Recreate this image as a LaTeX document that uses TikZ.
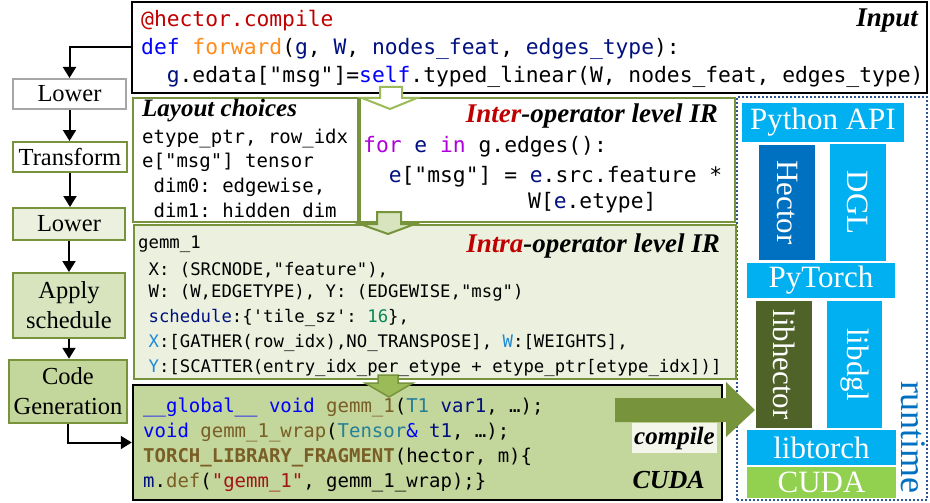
\documentclass[tikz,border=0pt]{standalone}
\usepackage{fontspec}
\setmainfont{Liberation Serif}
\setmonofont{DejaVu Sans Mono}
\usetikzlibrary{arrows.meta,fit}
\definecolor{ogreen}{HTML}{77933C}
\definecolor{lgreen}{HTML}{9BBB59}
\definecolor{fillA}{HTML}{EBF1DE}
\definecolor{fillB}{HTML}{D7E4BD}
\definecolor{fillC}{HTML}{C3D69B}
\definecolor{cyanb}{HTML}{00B0F0}
\definecolor{blueb}{HTML}{0070C0}
\definecolor{olived}{HTML}{4F6228}
\definecolor{limeg}{HTML}{92D050}
\definecolor{dotblue}{HTML}{2F5597}
\definecolor{cred}{HTML}{C00000}
\definecolor{kwc}{HTML}{0000FF}
\definecolor{prmc}{HTML}{001080}
\definecolor{fnc}{HTML}{795E26}
\definecolor{typc}{HTML}{267F99}
\definecolor{strc}{HTML}{A31515}
\definecolor{numc}{HTML}{098658}
\definecolor{ctrlc}{HTML}{AF00DB}
\definecolor{orngc}{HTML}{FF8C1A}
\definecolor{lbc}{HTML}{1E8AD6}
\definecolor{greyb}{HTML}{A6A6A6}
\definecolor{compfill}{HTML}{F4F6EC}
\newcommand{\cKw}[1]{\textcolor{kwc}{#1}}
\newcommand{\cPrm}[1]{\textcolor{prmc}{#1}}
\newcommand{\cFn}[1]{\textcolor{fnc}{#1}}
\newcommand{\cTyp}[1]{\textcolor{typc}{#1}}
\newcommand{\cLb}[1]{\textcolor{lbc}{#1}}
\tikzset{
  arr/.style={-{Triangle[width=13pt,length=11pt]}, line width=2pt, black},
  box/.style={inner sep=0pt, draw},
  stage/.style={inner sep=0pt, draw, line width=2pt},
  stagetxt/.style={inner sep=0pt, align=center, font=\fontsize{24.5}{30}\selectfont},
  codeA/.style={anchor=base west, inner sep=0pt, font=\ttfamily\fontsize{21.3}{21}\selectfont},
  codeB/.style={anchor=base west, inner sep=0pt, font=\ttfamily\fontsize{19}{19}\selectfont},
  codeC/.style={anchor=base west, inner sep=0pt, font=\ttfamily\fontsize{17.3}{17.3}\selectfont},
  ttl/.style={inner sep=0pt, font=\bfseries\itshape\fontsize{27}{27}\selectfont},
  rblock/.style={inner sep=0pt},
  rtext/.style={inner sep=0pt, text=white, font=\fontsize{31}{31}\selectfont},
  rlabel/.style={inner sep=0pt, text=white, rotate=-90, font=\fontsize{31}{31}\selectfont},
}
\begin{document}
\begin{tikzpicture}[x=1pt,y=-1pt]
\useasboundingbox (0,0) rectangle (930,503);
% ---------- runtime region
\node[box, draw=dotblue, line width=2pt, dotted, fit={(737,97) (927,500)}] (runtime) {};
\node[rblock, fill=cyanb, fit={(742,103) (904,142)}] (pyapi) {};
\node[rtext] (pyapil) at (pyapi.center) {Python API};
\node[rblock, fill=blueb, fit={(759,145) (815,260)}] (hector) {};
\node[rlabel] (hectorl) at (hector.center) {Hector};
\node[rblock, fill=cyanb, fit={(830,144) (886,261)}] (dgl) {};
\node[rlabel] (dgll) at (dgl.center) {DGL};
\node[rblock, fill=cyanb, fit={(747,263) (895,298)}] (pytorch) {};
\node[rtext] (pytorchl) at (pytorch.center) {PyTorch};
\node[rblock, fill=olived, fit={(756,301) (812,428)}] (libhector) {};
\node[rlabel] (libhectorl) at (libhector.center) {libhector};
\node[rblock, fill=cyanb, fit={(827,301) (882,428)}] (libdgl) {};
\node[rlabel] (libdgll) at (libdgl.center) {libdgl};
\node[rblock, fill=cyanb, fit={(747,430) (896,465)}] (libtorch) {};
\node[rtext] (libtorchl) at (libtorch.center) {libtorch};
\node[rblock, fill=limeg, fit={(747,467) (896,498)}] (cudart) {};
\node[rtext] (cudartl) at (cudart.center) {CUDA};
\node[inner sep=0pt, rotate=-90, text=blueb, font=\fontsize{36}{36}\selectfont] (rtlabel) at (913,437) {runtime};
% ---------- left column
\node[stage, draw=greyb, fill=white, fit={(13,79) (126,109)}] (lower1) {};
\node[stagetxt] at (lower1.center) {Lower};
\node[stage, draw=ogreen, fill=white, fit={(13,142) (127,172)}] (transform) {};
\node[stagetxt] at (transform.center) {Transform};
\node[stage, draw=ogreen, fill=fillA, fit={(13,208) (125,240)}] (lower2) {};
\node[stagetxt] at (lower2.center) {Lower};
\node[stage, draw=ogreen, fill=fillB, fit={(13,273) (125,338)}] (apply) {};
\node[stagetxt] at (apply.center) {Apply\\schedule};
\node[stage, draw=ogreen, line width=2.5pt, fill=fillC, fit={(9,360) (127,423)}] (codegen) {};
\node[stagetxt] at (codegen.center) {Code\\Generation};
% ---------- main boxes
\node[box, line width=1.5pt, fill=white, fit={(132,2) (927,93)}] (input) {};
\node[box, draw=ogreen, line width=2.2pt, fill=white, fit={(133,98) (358,222)}] (layout) {};
\node[box, draw=ogreen, line width=2.2pt, fill=white, fit={(360,98) (735,222)}] (inter) {};
\node[box, draw=ogreen, line width=2.2pt, fill=fillA, fit={(134,225) (736,379)}] (intra) {};
\node[box, draw=black, line width=2.5pt, fill=fillC, fit={(133,385) (722,500)}] (cuda) {};
% ---------- left connectors
\draw[arr] (input.west) -| (lower1.north);
\draw[arr] (lower1.south) -- (lower1.south |- transform.north);
\draw[arr] (transform.south) -- (transform.south |- lower2.north);
\draw[arr] (lower2.south) -- (lower2.south |- apply.north);
\draw[arr] (apply.south) -- (apply.south |- codegen.north);
\draw[arr] (codegen.south) |- (cuda.west);
% ---------- block arrows
\filldraw[draw=lgreen, fill=white, line width=2pt, line join=miter]
  (380,87) -- (402,87) -- (402,98) -- (417,98) -- (390,109) -- (362,98) -- (380,98) -- cycle;
\filldraw[draw=ogreen, fill=fillB, line width=2pt, line join=miter]
  (377,212) -- (401,212) -- (401,224) -- (415,224) -- (388,234) -- (360,224) -- (377,224) -- cycle;
\filldraw[draw=ogreen, fill=lgreen, line width=1.5pt, line join=miter]
  (378,375) -- (398,375) -- (398,383) -- (413,383) -- (389,397) -- (365,383) -- (378,383) -- cycle;
\fill[ogreen] (615,398) -- (726,398) -- (726,382) -- (755,410) -- (726,437) -- (726,422) -- (615,422) -- cycle;
% ---------- Input text
\node[ttl, anchor=base east] (inputt) at (918,27) {Input};
\node[codeA] (in1) at (141,27) {\textcolor{cred}{@hector.compile}};
\node[codeA] (in2) at (141,55) {\cKw{def} \textcolor{orngc}{forward}(\cPrm{g}, \cPrm{W}, \cPrm{nodes\_feat}, \cPrm{edges\_type}):};
\node[codeA] (in3) at (141,83) {\phantom{xx}\cPrm{g}.edata["msg"]=\cKw{self}.typed\_linear(W, nodes\_feat, edges\_type)};
% ---------- Layout text
\node[inner sep=0pt, anchor=base west, font=\bfseries\itshape\fontsize{25}{25}\selectfont] (layt) at (142,117) {Layout choices};
\node[codeB] (lay1) at (142,143) {etype\_ptr, row\_idx};
\node[codeB] (lay2) at (142,167) {e["msg"] tensor};
\node[codeB] (lay3) at (142,192) {\phantom{x}dim0: edgewise,};
\node[codeB] (lay4) at (142,217) {\phantom{x}dim1: hidden dim};
% ---------- Inter text
\node[ttl, anchor=base east] (intert) at (718,123) {\textcolor{cred}{Inter}-operator level IR};
\node[codeA] (int1) at (363,153) {\textcolor{ctrlc}{for} \cPrm{e} \textcolor{ctrlc}{in} g.edges():};
\node[codeA] (int2) at (363,182) {\phantom{xx}\cPrm{e}["msg"] = \cPrm{e}.src.feature *};
\node[codeA] (int3) at (528,208) {W[\cPrm{e}.etype]};
% ---------- Intra text
\node[ttl, anchor=base east] (intrat) at (720,252) {\textcolor{cred}{Intra}-operator level IR};
\node[codeC] (ia1) at (138,248) {gemm\_1};
\node[codeC] (ia2) at (138,275) {\phantom{x}X: (SRCNODE,"feature"),};
\node[codeC] (ia3) at (138,297) {\phantom{x}W: (W,EDGETYPE), Y: (EDGEWISE,"msg")};
\node[codeC] (ia4) at (138,322) {\phantom{x}\cPrm{schedule}:\{'tile\_sz': \textcolor{numc}{16}\},};
\node[codeC] (ia5) at (138,347) {\phantom{x}\cLb{X}:[GATHER(row\_idx),NO\_TRANSPOSE], \cLb{W}:[WEIGHTS],};
\node[codeC] (ia6) at (138,372) {\phantom{x}\cLb{Y}:[SCATTER(entry\_idx\_per\_etype + etype\_ptr[etype\_idx])]};
% ---------- CUDA text
\node[codeB] (cu1) at (143,412) {\cKw{\_\_global\_\_} \cKw{void} \cFn{gemm\_1}(\cTyp{T1} \cPrm{var1}, …);};
\node[codeB] (cu2) at (143,437) {\cKw{void} \cFn{gemm\_1\_wrap}(\cTyp{Tensor}\cKw{\&} \cPrm{t1}, …);};
\node[codeB] (cu3) at (143,462) {\cFn{\bfseries TORCH\_LIBRARY\_FRAGMENT}(hector, m)\{};
\node[codeB] (cu4) at (143,487) {\cPrm{m}.\cFn{def}(\textcolor{strc}{"gemm\_1"}, gemm\_1\_wrap);\}};
\node[inner sep=0pt, fill=compfill, fit={(632,423) (717,453)}] (compile) {};
\node[inner sep=0pt, font=\bfseries\itshape\fontsize{25}{25}\selectfont] (compilel) at (compile.center) {compile};
\node[inner sep=0pt, anchor=base east, font=\bfseries\itshape\fontsize{26}{26}\selectfont] (cudat) at (705,488) {CUDA};
\end{tikzpicture}
\end{document}
